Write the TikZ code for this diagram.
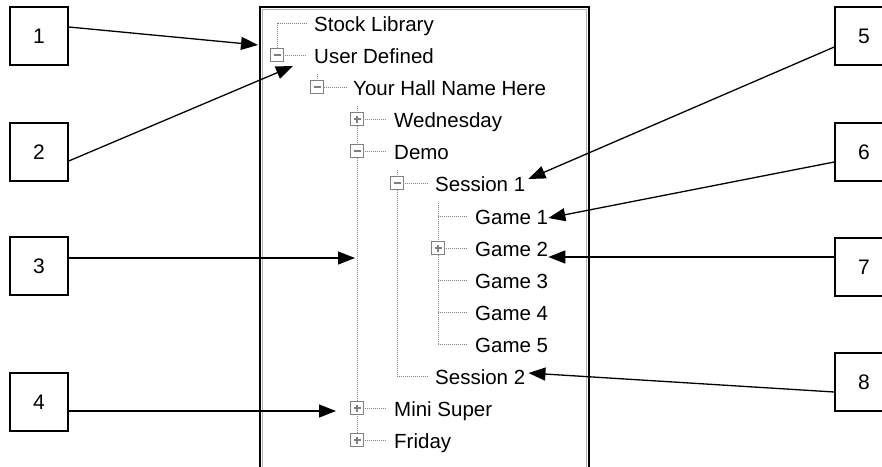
\documentclass[tikz,border=0pt]{standalone}
\usepackage{fontspec}
\setmainfont{Liberation Sans}
\usetikzlibrary{arrows.meta}

\tikzset{
  numbox/.style={draw, line width=1.5pt, minimum size=58pt, inner sep=0pt, font=\fontsize{21}{24}\selectfont},
  leaf/.style={anchor=base west, inner sep=0pt, font=\fontsize{20.5}{24}\selectfont},
  expander/.style={draw=gray, fill=white, line width=1.4pt, minimum size=13pt, inner sep=0pt},
  minusbox/.style={expander, path picture={
      \draw[line width=1.6pt] ([xshift=-3.5pt]path picture bounding box.center) -- ([xshift=3.5pt]path picture bounding box.center);}},
  plusbox/.style={expander, path picture={
      \draw[line width=1.6pt] ([xshift=-3.5pt]path picture bounding box.center) -- ([xshift=3.5pt]path picture bounding box.center);
      \draw[line width=1.6pt] ([yshift=-3.5pt]path picture bounding box.center) -- ([yshift=3.5pt]path picture bounding box.center);}},
  guide/.style={gray, line width=1pt, dash pattern=on 1pt off 1pt},
  callout/.style={line width=1.3pt, -{Triangle[length=17pt,width=13pt]}},
}

\begin{document}
\begin{tikzpicture}[x=1pt, y=-1pt]
\useasboundingbox (0,0) rectangle (882,466);
\clip (0,0) rectangle (882,466);

% tree window frame
\draw[line width=2pt] (260,470) |- (589,7) -- (589,470);
\draw[gray!60, line width=1pt] (262.5,470) |- (586.5,9.5) -- (586.5,470);

% dotted guide lines
\draw[guide] (307,23) -| (277,55) -- (307,55);
\draw[guide] (317,74) -- (317,87) -- (347,87);
\draw[guide] (357,106) -- (357,440);
\foreach \y in {119,151,408,440}
  \draw[guide] (357,\y) -- (387,\y);
\draw[guide] (397,170) -- (397,376) -- (428,376);
\draw[guide] (397,183) -- (428,183);
\draw[guide] (438,203) -- (438,344);
\foreach \y in {216,248,280,312,344}
  \draw[guide] (438,\y) -- (468,\y);

% expand/collapse buttons
\node[minusbox] (bxuser) at (277,55) {};
\node[minusbox] (bxhall) at (317,87) {};
\node[plusbox]  (bxwed)  at (357,119) {};
\node[minusbox] (bxdemo) at (357,151) {};
\node[minusbox] (bxses)  at (397,183) {};
\node[plusbox]  (bxgame) at (438,248) {};
\node[plusbox]  (bxmini) at (357,408) {};
\node[plusbox]  (bxfri)  at (357,440) {};

% item labels
\node[leaf] (stock) at (314,31)  {Stock Library};
\node[leaf] (user)  at (314,63)  {User Defined};
\node[leaf] (hall)  at (353,95)  {Your Hall Name Here};
\node[leaf] (wed)   at (394,127) {Wednesday};
\node[leaf] (demo)  at (394,159) {Demo};
\node[leaf] (ses1)  at (435,191) {Session 1};
\foreach \y [count=\i] in {224,256,288,320,352}
  \node[leaf] (g\i) at (475,\y) {Game \i};
\node[leaf] (ses2)  at (435,384) {Session 2};
\node[leaf] (mini)  at (394,416) {Mini Super};
\node[leaf] (fri)   at (394,448) {Friday};

% numbered callouts
\node[numbox] (n1) at (39,36)  {1};
\node[numbox] (n2) at (39,152) {2};
\node[numbox] (n3) at (39,266) {3};
\node[numbox] (n4) at (39,402) {4};
\node[numbox] (n5) at (864,36)  {5};
\node[numbox] (n6) at (864,152) {6};
\node[numbox] (n7) at (864,267) {7};
\node[numbox] (n8) at (864,382) {8};

\coordinate (trunk) at (355,258);

\draw[callout] ([shift={(0,-9)}]n1.east) -- ([shift={(-19,-10)}]bxuser.center);
\draw[callout] ([shift={(0,9)}]n2.east) -- ([shift={(16,11)}]bxuser.center);
\draw[callout] ([shift={(0,-8)}]n3.east) -- (trunk);
\draw[callout] ([shift={(0,9)}]n4.east) -- ([shift={(-21,3)}]bxmini.center);
\draw[callout] ([shift={(0,11)}]n5.west) -- ([shift={(3,-12)}]ses1.base east);
\draw[callout] ([shift={(0,10)}]n6.west) -- ([shift={(0,-6)}]g1.base east);
\draw[callout] ([shift={(0,-10)}]n7.west) -- ([shift={(0,1)}]g2.base east);
\draw[callout] ([shift={(0,10)}]n8.west) -- ([shift={(3,-11)}]ses2.base east);

\end{tikzpicture}
\end{document}
